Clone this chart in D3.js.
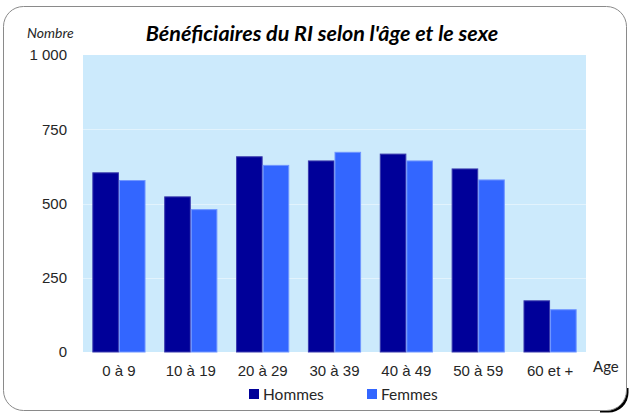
<!DOCTYPE html>
<html>
<head>
  <meta charset="utf-8">
  <script src="https://cdn.jsdelivr.net/npm/d3@7"></script>
  <style type="text/css">
    body {
      margin: 0;
      background: #fff;
      font-family: Lato, "Open Sans", sans-serif;
    }
    .axis text {
      font-size: 15px;
      fill: #262626;
    }
  </style>
</head>
<body>
  <script type="text/javascript">

  const categories = ['0 à 9', '10 à 19', '20 à 29', '30 à 39', '40 à 49', '50 à 59', '60 et +'];
  const hommes = [605, 524, 659, 645, 668, 618, 174];
  const femmes = [579, 481, 630, 674, 645, 581, 144];
  const series = ['Hommes', 'Femmes'];
  const yTicks = [0, 250, 500, 750, 1000];
  const colors = ['#000099', '#3366ff'];
  const strokes = ['#3a3aad', '#6f95ff'];

  const W = 629, H = 413;
  const margin = {top: 55, left: 83, right: 43, bottom: 61};
  const width = W - margin.left - margin.right;
  const height = H - margin.top - margin.bottom;

  const svg = d3.select('body').append('svg')
    .attr('width', W)
    .attr('height', H);

  // frame with dark shadow at bottom-right corner
  svg.append('clipPath').attr('id', 'corner')
    .append('rect').attr('x', 600).attr('y', 388).attr('width', 40).attr('height', 40);
  svg.append('rect')
    .attr('x', 5.5).attr('y', 8.5)
    .attr('width', 623).attr('height', 404)
    .attr('rx', 20).attr('ry', 20)
    .attr('fill', '#000')
    .attr('clip-path', 'url(#corner)');
  svg.append('rect')
    .attr('x', 3.5).attr('y', 6.5)
    .attr('width', 623).attr('height', 404)
    .attr('rx', 20).attr('ry', 20)
    .attr('fill', '#fff')
    .attr('stroke', '#8a8a8a')
    .attr('stroke-width', 1);

  const g = svg.append('g')
    .attr('transform', `translate(${margin.left},${margin.top})`);

  const x = d3.scaleBand().domain(categories).range([0, width]).paddingInner(0.26).paddingOuter(0.13);
  const xs = d3.scaleBand().domain(series).range([0, x.bandwidth()]);
  const y = d3.scaleLinear().domain([0, 1000]).range([height, 0]);

  g.append('rect')
    .attr('width', width).attr('height', height)
    .attr('fill', '#cceafc');

  // gridlines
  g.selectAll('line.grid').data(yTicks.slice(1, -1)).enter().append('line')
    .attr('class', 'grid')
    .attr('x1', 0).attr('x2', width)
    .attr('y1', d => Math.round(y(d)) + 0.5).attr('y2', d => Math.round(y(d)) + 0.5)
    .attr('stroke', '#e2f3fd').attr('stroke-width', 1);

  const data = categories.map((c, i) => ({cat: c, values: [hommes[i], femmes[i]]}));

  const groups = g.selectAll('g.cat').data(data).enter().append('g')
    .attr('class', 'cat')
    .attr('transform', d => `translate(${x(d.cat)},0)`);

  groups.selectAll('rect').data(d => d.values.map((v, k) => ({s: series[k], v, k}))).enter().append('rect')
    .attr('x', d => xs(d.s) + 0.5)
    .attr('y', d => y(d.v) + 0.5)
    .attr('width', xs.bandwidth() - 1)
    .attr('height', d => height - y(d.v) - 0.5)
    .attr('fill', d => colors[d.k])
    .attr('stroke', d => strokes[d.k])
    .attr('stroke-width', 1);

  // axes
  const axisY = d3.axisLeft(y).tickValues(yTicks).tickSize(0).tickPadding(16)
    .tickFormat(d => d3.format(',')(d).replace(',', ' '));
  g.append('g').attr('class', 'axis').call(axisY)
    .call(s => s.select('.domain').remove());

  const axisX = d3.axisBottom(x).tickSize(0).tickPadding(13);
  g.append('g').attr('class', 'axis')
    .attr('transform', `translate(0,${height})`)
    .call(axisX)
    .call(s => s.select('.domain').remove());

  // titles
  svg.append('text')
    .attr('x', 322).attr('y', 41)
    .attr('text-anchor', 'middle')
    .style('font-size', '21.5px').style('font-weight', 'bold').style('font-style', 'italic')
    .text("Bénéficiaires du RI selon l'âge et le sexe");
  svg.append('text')
    .attr('x', 27).attr('y', 38)
    .style('font-size', '14px').style('font-style', 'italic')
    .attr('fill', '#262626')
    .text('Nombre');
  svg.append('text')
    .attr('x', 593).attr('y', 372)
    .style('font-size', '15px').attr('fill', '#262626')
    .text('Age');

  // legend
  const legend = svg.append('g').selectAll('g').data(series).enter().append('g')
    .attr('transform', (d, i) => `translate(${249 + i * 118},389)`);
  legend.append('rect').attr('width', 10).attr('height', 10)
    .attr('fill', (d, i) => colors[i]);
  legend.append('text').attr('x', 14).attr('y', 10.5)
    .style('font-size', '15.5px').attr('fill', '#262626')
    .text(d => d);

  </script>
</body>
</html>
